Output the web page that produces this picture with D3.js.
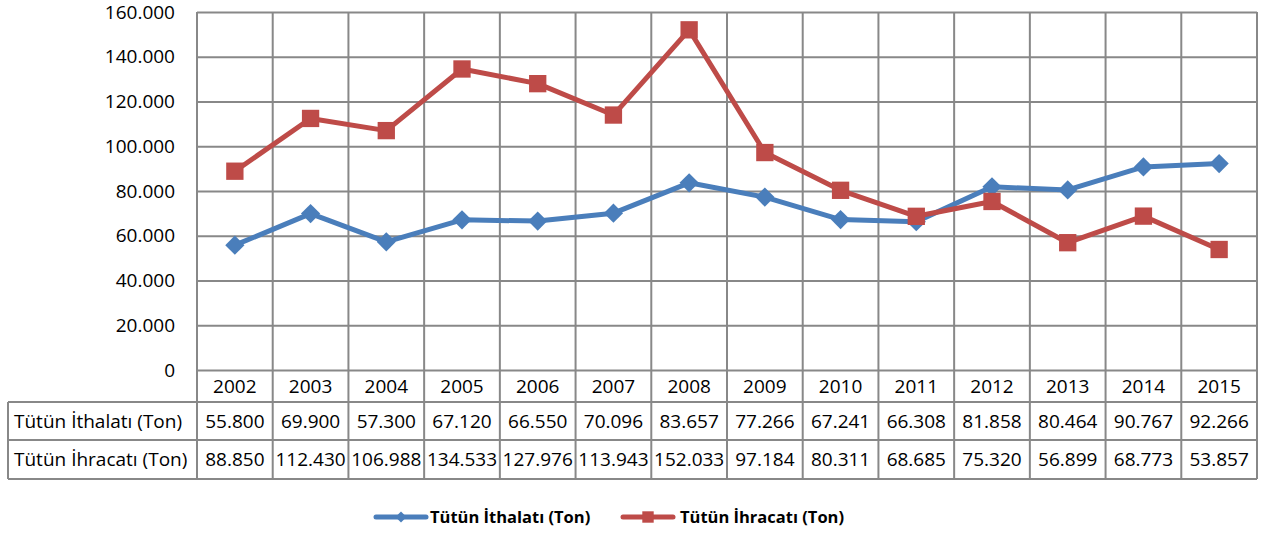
<!DOCTYPE html>
<html>
<head>
<meta charset="UTF-8">
<title>Tütün İthalatı ve İhracatı</title>
<script src="https://cdn.jsdelivr.net/npm/d3@7"></script>
<style>
  body { margin: 0; background: #fff; }
  text { font-family: "Open Sans", "Liberation Sans", sans-serif; fill: #000; }
</style>
</head>
<body>
<script>
var years = ["2002", "2003", "2004", "2005", "2006", "2007", "2008", "2009", "2010", "2011", "2012", "2013", "2014", "2015"];
var ithalat = [55800, 69900, 57300, 67120, 66550, 70096, 83657, 77266, 67241, 66308, 81858, 80464, 90767, 92266];
var ihracat = [88850, 112430, 106988, 134533, 127976, 113943, 152033, 97184, 80311, 68685, 75320, 56899, 68773, 53857];
var seriesNames = ["Tütün İthalatı (Ton)", "Tütün İhracatı (Ton)"];
var yTicks = [0, 20000, 40000, 60000, 80000, 100000, 120000, 140000, 160000];

var w = 1274, h = 534;
var plotLeft = 197, plotRight = 1257, plotTop = 12, plotZero = 370;
var rowTop = [370, 402, 440, 479];
var tableLeft = 8;
var gridColor = "#888888";
var colors = ["#4a7ebb", "#be4b48"];
var fs = 19;

var tr = d3.formatLocale({ decimal: ",", thousands: ".", grouping: [3], currency: ["", ""] });
var fmt = tr.format(",.0f");

var x = d3.scaleBand().domain(years).range([plotLeft, plotRight]);
var y = d3.scaleLinear().domain([0, 160000]).range([plotZero, plotTop]);

var svg = d3.select("body").append("svg")
  .attr("width", w).attr("height", h);

// horizontal grid + y labels
var yAxis = svg.append("g")
  .attr("transform", "translate(" + plotLeft + ",0)")
  .call(d3.axisLeft(y).tickValues(yTicks).tickFormat(fmt).tickSize(-(plotRight - plotLeft)).tickPadding(22));
yAxis.select(".domain").remove();
yAxis.selectAll(".tick line").attr("stroke", gridColor).attr("stroke-width", 2);
yAxis.selectAll(".tick text").attr("font-size", fs).attr("font-family", "\"Open Sans\", sans-serif").attr("fill", "#000");

// vertical grid lines through plot and table
var bounds = years.map(function(d) { return x(d); }).concat([plotRight]);
svg.append("g").selectAll("line")
  .data(bounds).enter().append("line")
  .attr("x1", function(d) { return d; }).attr("x2", function(d) { return d; })
  .attr("y1", plotTop).attr("y2", rowTop[3])
  .attr("stroke", gridColor).attr("stroke-width", 2);

// table horizontal lines
svg.append("g").selectAll("line")
  .data(rowTop.slice(1)).enter().append("line")
  .attr("x1", tableLeft).attr("x2", plotRight)
  .attr("y1", function(d) { return d; }).attr("y2", function(d) { return d; })
  .attr("stroke", gridColor).attr("stroke-width", 2);
svg.append("line")
  .attr("x1", tableLeft).attr("x2", tableLeft)
  .attr("y1", rowTop[1]).attr("y2", rowTop[3])
  .attr("stroke", gridColor).attr("stroke-width", 2);

// year header
svg.append("g").selectAll("text")
  .data(years).enter().append("text")
  .attr("x", function(d) { return x(d) + x.bandwidth() / 2; })
  .attr("y", (rowTop[0] + rowTop[1]) / 2)
  .attr("dy", "0.35em")
  .attr("text-anchor", "middle")
  .attr("font-size", fs)
  .text(function(d) { return d; });

// table rows
[ithalat, ihracat].forEach(function(vals, r) {
  var cy = (rowTop[r + 1] + rowTop[r + 2]) / 2;
  svg.append("text")
    .attr("x", 14).attr("y", cy).attr("dy", "0.35em")
    .attr("font-size", fs)
    .text(seriesNames[r]);
  svg.append("g").selectAll("text")
    .data(vals).enter().append("text")
    .attr("x", function(d, i) { return x(years[i]) + x.bandwidth() / 2; })
    .attr("y", cy).attr("dy", "0.35em")
    .attr("text-anchor", "middle")
    .attr("font-size", fs)
    .text(function(d) { return (d / 1000).toFixed(3); });
});

// lines and markers (diamond = square turned 45deg)
var line = d3.line()
  .x(function(d, i) { return x(years[i]) + x.bandwidth() / 2; })
  .y(function(d) { return y(d); });

var symSize = [185, 300];
var symRot = [45, 0];

[ithalat, ihracat].forEach(function(vals, s) {
  svg.append("path")
    .datum(vals)
    .attr("d", line)
    .attr("fill", "none")
    .attr("stroke", colors[s])
    .attr("stroke-width", 5)
    .attr("stroke-linejoin", "round");
  svg.append("g").selectAll("path")
    .data(vals).enter().append("path")
    .attr("transform", function(d, i) {
      return "translate(" + (x(years[i]) + x.bandwidth() / 2) + "," + y(d) + ") rotate(" + symRot[s] + ")";
    })
    .attr("d", d3.symbol().type(d3.symbolSquare).size(symSize[s]))
    .attr("fill", colors[s]);
});

// legend
var legendItems = [{ x: 376, tx: 430 }, { x: 623, tx: 680 }];
legendItems.forEach(function(it, s) {
  var g = svg.append("g").attr("transform", "translate(0,517)");
  g.append("line")
    .attr("x1", it.x).attr("x2", it.x + 50)
    .attr("stroke", colors[s]).attr("stroke-width", 5).attr("stroke-linecap", "round");
  g.append("path")
    .attr("transform", "translate(" + (it.x + 25) + ",0) rotate(" + symRot[s] + ")")
    .attr("d", d3.symbol().type(d3.symbolSquare).size(s === 0 ? 60 : 130))
    .attr("fill", colors[s]);
  g.append("text")
    .attr("x", it.tx).attr("dy", "0.35em")
    .attr("font-size", 16.5).attr("font-weight", "bold")
    .text(seriesNames[s]);
});
</script>
</body>
</html>
